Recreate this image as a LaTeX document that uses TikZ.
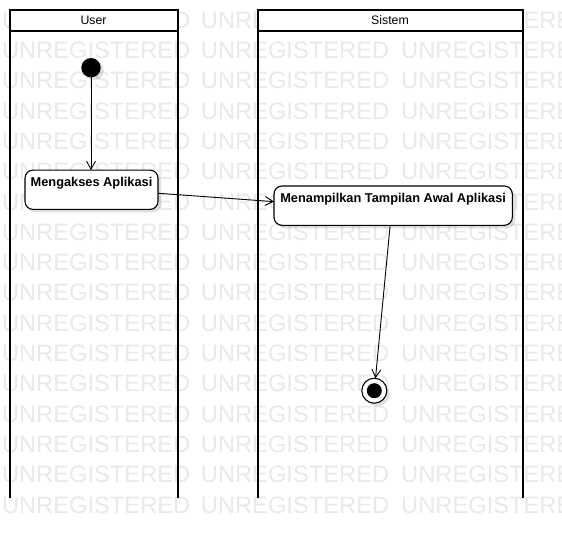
\documentclass[tikz,border=0pt]{standalone}
\usepackage{fontspec}
\setmainfont{Liberation Sans}
\usetikzlibrary{arrows.meta,calc,shadows}
\definecolor{wm}{RGB}{233,233,233}
\begin{document}
\begin{tikzpicture}[x=1pt,y=-1pt,
  wmtext/.style={text=wm,font=\fontsize{23.7}{24}\selectfont,inner sep=0pt,anchor=base west},
  lanehead/.style={draw,line width=2pt,fill=white,inner sep=0pt,outer sep=0pt,minimum height=21.5pt,font=\fontsize{12.3}{14}\selectfont},
  laneline/.style={line width=2pt},
  softshadow/.style={drop shadow={shadow xshift=3pt,shadow yshift=-3pt,fill=black,opacity=0.12}},
  act/.style={draw,line width=1.1pt,rounded corners=8pt,fill=white,inner sep=0pt,outer sep=0pt,minimum height=39.3pt,text height=10pt,text depth=16.3pt,font=\bfseries\fontsize{12.8}{14}\selectfont,softshadow},
  initnode/.style={circle,fill=black,minimum size=19.4pt,inner sep=0pt,outer sep=0pt,softshadow},
  finnode/.style={circle,draw,line width=1.1pt,fill=white,minimum size=25pt,inner sep=0pt,outer sep=0pt,softshadow,
    path picture={\fill[black] (path picture bounding box.center) circle (7.5pt);}},
  flow/.style={line width=0.9pt,-{Straight Barb[length=8pt,width=9pt]}}
]
\useasboundingbox (0,0) rectangle (562,538);
\begin{scope}
\clip (0,0) rectangle (562,538);
\foreach \k in {0,...,16} {
  \foreach \xx [count=\i] in {1.8,200.7,401} {
    \node[wmtext] (wm\k-\i) at (\xx, {28.2+30.3*\k}) {UNREGISTERED};
  }
}
\end{scope}
% swimlanes
\node[lanehead,minimum width=168.2pt] (uh) at (93.6,20.25) {User};
\draw[laneline] (uh.south west) -- ++(0,466.5);
\draw[laneline] (uh.south east) -- ++(0,466.5);
\node[lanehead,minimum width=265pt] (sh) at (390,20.25) {Sistem};
\draw[laneline] (sh.south west) -- ++(0,466.5);
\draw[laneline] (sh.south east) -- ++(0,466.5);
% nodes
\node[initnode] (init) at (91,67.7) {};
\node[act,minimum width=133pt] (a1) at (91.5,189.75) {Mengakses Aplikasi};
\node[act,minimum width=238.3pt] (a2) at (393.15,205.65) {Menampilkan Tampilan Awal Aplikasi};
\node[finnode] (fin) at (374.3,390.7) {};
% flows
\draw[flow] (init) -- (init |- a1.north);
\draw[flow] ($(a1.east)+(0,3.5)$) -- ($(a2.west)+(0,-4)$);
\draw[flow] ($(a2.south)+(-3,0)$) -- (fin);
\end{tikzpicture}
\end{document}
